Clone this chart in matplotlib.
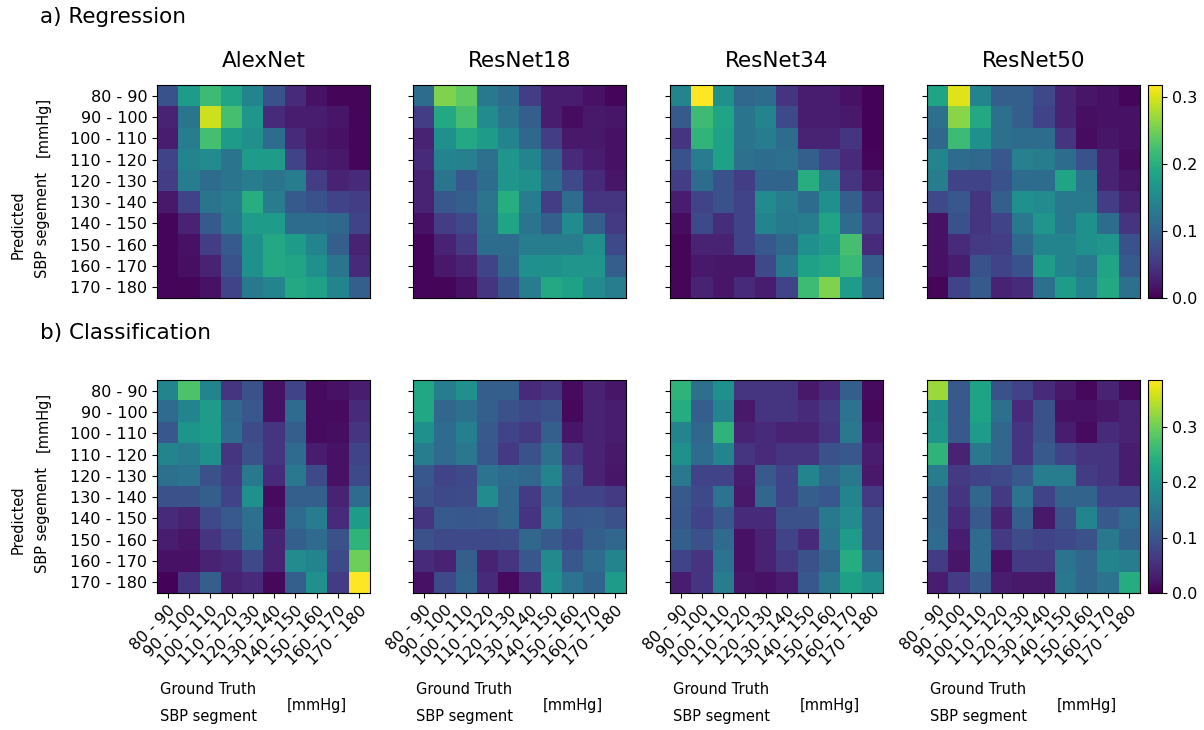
import numpy as np
import matplotlib
matplotlib.use("Agg")
import matplotlib.pyplot as plt

segments = ["80 - 90", "90 - 100", "100 - 110", "110 - 120", "120 - 130",
            "130 - 140", "140 - 150", "150 - 160", "160 - 170", "170 - 180"]
models = ["AlexNet", "ResNet18", "ResNet34", "ResNet50"]

reg_alexnet = [
    [0.080, 0.176, 0.218, 0.186, 0.144, 0.080, 0.038, 0.016, 0.006, 0.006],
    [0.032, 0.122, 0.294, 0.224, 0.166, 0.038, 0.026, 0.026, 0.019, 0.006],
    [0.026, 0.134, 0.224, 0.176, 0.160, 0.112, 0.038, 0.022, 0.016, 0.006],
    [0.064, 0.144, 0.154, 0.122, 0.176, 0.176, 0.064, 0.026, 0.022, 0.006],
    [0.058, 0.134, 0.112, 0.122, 0.134, 0.122, 0.134, 0.058, 0.032, 0.038],
    [0.022, 0.064, 0.122, 0.134, 0.198, 0.134, 0.090, 0.080, 0.064, 0.058],
    [0.006, 0.032, 0.090, 0.128, 0.176, 0.176, 0.112, 0.112, 0.106, 0.064],
    [0.006, 0.016, 0.058, 0.090, 0.160, 0.192, 0.176, 0.144, 0.096, 0.032],
    [0.006, 0.013, 0.032, 0.080, 0.160, 0.192, 0.186, 0.160, 0.122, 0.038],
    [0.006, 0.006, 0.016, 0.064, 0.128, 0.144, 0.192, 0.182, 0.144, 0.096],
]
reg_resnet18 = [
    [0.112, 0.256, 0.240, 0.128, 0.112, 0.058, 0.026, 0.026, 0.016, 0.006],
    [0.058, 0.192, 0.224, 0.154, 0.122, 0.096, 0.026, 0.010, 0.022, 0.019],
    [0.032, 0.160, 0.192, 0.176, 0.144, 0.106, 0.058, 0.022, 0.022, 0.016],
    [0.038, 0.144, 0.138, 0.118, 0.166, 0.144, 0.096, 0.038, 0.026, 0.016],
    [0.032, 0.122, 0.086, 0.112, 0.166, 0.160, 0.112, 0.070, 0.038, 0.019],
    [0.032, 0.086, 0.096, 0.122, 0.198, 0.134, 0.058, 0.112, 0.048, 0.048],
    [0.016, 0.058, 0.070, 0.118, 0.186, 0.122, 0.096, 0.154, 0.096, 0.054],
    [0.006, 0.032, 0.054, 0.112, 0.112, 0.134, 0.134, 0.134, 0.160, 0.070],
    [0.006, 0.022, 0.032, 0.064, 0.106, 0.160, 0.160, 0.166, 0.166, 0.096],
    [0.006, 0.006, 0.016, 0.048, 0.080, 0.134, 0.192, 0.182, 0.154, 0.134],
]
reg_resnet34 = [
    [0.144, 0.318, 0.160, 0.106, 0.112, 0.048, 0.026, 0.026, 0.016, 0.003],
    [0.090, 0.218, 0.186, 0.122, 0.144, 0.070, 0.026, 0.026, 0.022, 0.003],
    [0.048, 0.208, 0.182, 0.122, 0.134, 0.112, 0.032, 0.032, 0.048, 0.003],
    [0.080, 0.134, 0.182, 0.118, 0.112, 0.118, 0.096, 0.064, 0.038, 0.006],
    [0.058, 0.112, 0.080, 0.058, 0.102, 0.102, 0.198, 0.134, 0.048, 0.019],
    [0.026, 0.064, 0.080, 0.064, 0.154, 0.134, 0.112, 0.160, 0.096, 0.042],
    [0.010, 0.070, 0.042, 0.064, 0.144, 0.128, 0.134, 0.186, 0.112, 0.058],
    [0.006, 0.032, 0.032, 0.064, 0.086, 0.106, 0.160, 0.176, 0.224, 0.038],
    [0.006, 0.022, 0.019, 0.019, 0.070, 0.128, 0.182, 0.192, 0.214, 0.096],
    [0.006, 0.032, 0.019, 0.038, 0.026, 0.064, 0.218, 0.256, 0.176, 0.112],
]
reg_resnet50 = [
    [0.186, 0.304, 0.144, 0.096, 0.096, 0.070, 0.032, 0.019, 0.016, 0.006],
    [0.118, 0.262, 0.192, 0.118, 0.096, 0.064, 0.032, 0.013, 0.016, 0.016],
    [0.106, 0.218, 0.160, 0.118, 0.112, 0.112, 0.048, 0.010, 0.019, 0.016],
    [0.144, 0.112, 0.106, 0.086, 0.138, 0.134, 0.112, 0.080, 0.032, 0.010],
    [0.134, 0.064, 0.064, 0.080, 0.112, 0.112, 0.186, 0.122, 0.032, 0.019],
    [0.070, 0.086, 0.048, 0.096, 0.160, 0.154, 0.128, 0.128, 0.058, 0.032],
    [0.016, 0.080, 0.048, 0.064, 0.128, 0.166, 0.128, 0.160, 0.112, 0.048],
    [0.016, 0.038, 0.054, 0.058, 0.106, 0.144, 0.144, 0.160, 0.166, 0.080],
    [0.016, 0.026, 0.080, 0.064, 0.080, 0.176, 0.144, 0.128, 0.186, 0.090],
    [0.006, 0.064, 0.090, 0.032, 0.038, 0.118, 0.176, 0.144, 0.192, 0.118],
]

cls_alexnet = [
    [0.173, 0.277, 0.173, 0.058, 0.096, 0.019, 0.077, 0.012, 0.019, 0.031],
    [0.135, 0.173, 0.212, 0.127, 0.104, 0.019, 0.135, 0.012, 0.012, 0.046],
    [0.104, 0.200, 0.212, 0.135, 0.089, 0.058, 0.116, 0.012, 0.015, 0.058],
    [0.173, 0.162, 0.193, 0.058, 0.096, 0.058, 0.135, 0.031, 0.019, 0.077],
    [0.142, 0.146, 0.096, 0.069, 0.154, 0.046, 0.154, 0.085, 0.019, 0.085],
    [0.096, 0.096, 0.116, 0.077, 0.193, 0.012, 0.116, 0.116, 0.038, 0.135],
    [0.046, 0.038, 0.085, 0.108, 0.142, 0.019, 0.135, 0.162, 0.046, 0.212],
    [0.031, 0.023, 0.058, 0.085, 0.135, 0.038, 0.116, 0.135, 0.096, 0.250],
    [0.019, 0.019, 0.038, 0.046, 0.085, 0.038, 0.185, 0.173, 0.085, 0.300],
    [0.004, 0.058, 0.116, 0.038, 0.046, 0.008, 0.116, 0.193, 0.069, 0.385],
]
cls_resnet18 = [
    [0.231, 0.162, 0.193, 0.116, 0.116, 0.046, 0.058, 0.012, 0.038, 0.023],
    [0.231, 0.127, 0.142, 0.116, 0.096, 0.085, 0.096, 0.008, 0.038, 0.031],
    [0.193, 0.135, 0.166, 0.108, 0.077, 0.065, 0.116, 0.023, 0.038, 0.031],
    [0.162, 0.135, 0.154, 0.104, 0.065, 0.096, 0.142, 0.058, 0.038, 0.027],
    [0.104, 0.077, 0.085, 0.146, 0.135, 0.127, 0.173, 0.085, 0.038, 0.023],
    [0.096, 0.085, 0.089, 0.185, 0.127, 0.069, 0.135, 0.077, 0.077, 0.065],
    [0.058, 0.108, 0.104, 0.108, 0.127, 0.058, 0.154, 0.104, 0.108, 0.096],
    [0.096, 0.085, 0.085, 0.085, 0.089, 0.127, 0.108, 0.085, 0.116, 0.127],
    [0.046, 0.038, 0.116, 0.038, 0.058, 0.104, 0.181, 0.104, 0.135, 0.173],
    [0.019, 0.085, 0.123, 0.046, 0.012, 0.046, 0.193, 0.146, 0.123, 0.212],
]
cls_resnet34 = [
    [0.250, 0.142, 0.193, 0.058, 0.058, 0.058, 0.027, 0.046, 0.116, 0.012],
    [0.239, 0.116, 0.173, 0.027, 0.058, 0.058, 0.046, 0.065, 0.146, 0.008],
    [0.173, 0.127, 0.250, 0.038, 0.046, 0.038, 0.038, 0.058, 0.154, 0.019],
    [0.193, 0.135, 0.173, 0.058, 0.046, 0.058, 0.058, 0.096, 0.104, 0.031],
    [0.154, 0.077, 0.077, 0.031, 0.108, 0.077, 0.173, 0.127, 0.154, 0.027],
    [0.108, 0.085, 0.146, 0.027, 0.127, 0.077, 0.116, 0.104, 0.173, 0.065],
    [0.104, 0.077, 0.108, 0.046, 0.046, 0.096, 0.096, 0.154, 0.185, 0.096],
    [0.116, 0.096, 0.135, 0.019, 0.038, 0.077, 0.046, 0.146, 0.212, 0.096],
    [0.077, 0.058, 0.146, 0.019, 0.038, 0.065, 0.096, 0.127, 0.239, 0.135],
    [0.031, 0.058, 0.162, 0.023, 0.019, 0.031, 0.104, 0.154, 0.219, 0.193],
]
cls_resnet50 = [
    [0.327, 0.108, 0.223, 0.096, 0.077, 0.046, 0.027, 0.008, 0.038, 0.012],
    [0.193, 0.108, 0.223, 0.142, 0.046, 0.096, 0.019, 0.019, 0.027, 0.038],
    [0.200, 0.108, 0.212, 0.127, 0.058, 0.096, 0.031, 0.012, 0.046, 0.038],
    [0.250, 0.038, 0.154, 0.127, 0.058, 0.108, 0.077, 0.058, 0.058, 0.031],
    [0.162, 0.065, 0.077, 0.085, 0.108, 0.162, 0.162, 0.069, 0.058, 0.031],
    [0.127, 0.058, 0.127, 0.065, 0.146, 0.077, 0.123, 0.123, 0.077, 0.077],
    [0.127, 0.046, 0.108, 0.038, 0.116, 0.027, 0.096, 0.173, 0.108, 0.135],
    [0.135, 0.031, 0.135, 0.065, 0.089, 0.077, 0.085, 0.096, 0.154, 0.123],
    [0.069, 0.023, 0.135, 0.019, 0.065, 0.065, 0.146, 0.127, 0.173, 0.162],
    [0.031, 0.069, 0.108, 0.031, 0.027, 0.027, 0.154, 0.127, 0.146, 0.239],
]

reg_data = [reg_alexnet, reg_resnet18, reg_resnet34, reg_resnet50]
cls_data = [cls_alexnet, cls_resnet18, cls_resnet34, cls_resnet50]
cbar_ticks = [0.0, 0.1, 0.2, 0.3]

W, H = 1204, 730
fig = plt.figure(figsize=(W / 100, H / 100), dpi=100)

def fx(px):
    return px / W

def fy(py):
    return 1 - py / H

ax_lefts = [157, 413, 670, 927]
size = 213
row_tops = [85, 380]
cbar_left, cbar_w = 1148, 14

TICK_FS = 11.5
LABEL_FS = 10.5
TITLE_FS = 15.5

rows = [(reg_data, 0.318), (cls_data, 0.385)]
for r, (datasets, vmax) in enumerate(rows):
    top = row_tops[r]
    im = None
    for c, data in enumerate(datasets):
        ax = fig.add_axes([fx(ax_lefts[c]), fy(top + size), size / W, size / H])
        im = ax.imshow(np.array(data), cmap="viridis", vmin=0, vmax=vmax,
                       aspect="auto", interpolation="nearest")
        ax.set_yticks(range(len(segments)))
        if c == 0:
            ax.set_yticklabels(segments, fontsize=TICK_FS)
        else:
            ax.set_yticklabels([])
        if r == 0:
            ax.set_xticks([])
            ax.set_title(models[c], fontsize=TITLE_FS, pad=13)
        else:
            ax.set_xticks(range(len(segments)))
            ax.set_xticklabels(segments, fontsize=TICK_FS, rotation=45,
                               ha="right", rotation_mode="anchor")
            ax.text(0.014, -0.455, "Ground Truth", transform=ax.transAxes,
                    fontsize=LABEL_FS, ha="left", va="center")
            ax.text(0.014, -0.582, "SBP segment", transform=ax.transAxes,
                    fontsize=LABEL_FS, ha="left", va="center")
            ax.text(0.61, -0.526, "[mmHg]", transform=ax.transAxes,
                    fontsize=LABEL_FS, ha="left", va="center")
    cax = fig.add_axes([fx(cbar_left), fy(top + size), cbar_w / W, size / H])
    cb = fig.colorbar(im, cax=cax)
    cb.set_ticks(cbar_ticks)
    cb.ax.tick_params(labelsize=TICK_FS)
    # y labels
    fig.text(fx(18), fy(top + 140), "Predicted", rotation=90, fontsize=LABEL_FS,
             ha="center", va="center")
    fig.text(fx(43), fy(top + 140), "SBP segement", rotation=90, fontsize=LABEL_FS,
             ha="center", va="center")
    fig.text(fx(43), fy(top + 42), "[mmHg]", rotation=90, fontsize=LABEL_FS,
             ha="center", va="center")

fig.text(fx(40), fy(17), "a) Regression", fontsize=TITLE_FS, ha="left", va="center")
fig.text(fx(40), fy(333), "b) Classification", fontsize=TITLE_FS, ha="left", va="center")

fig.savefig("out.png", dpi=100)
